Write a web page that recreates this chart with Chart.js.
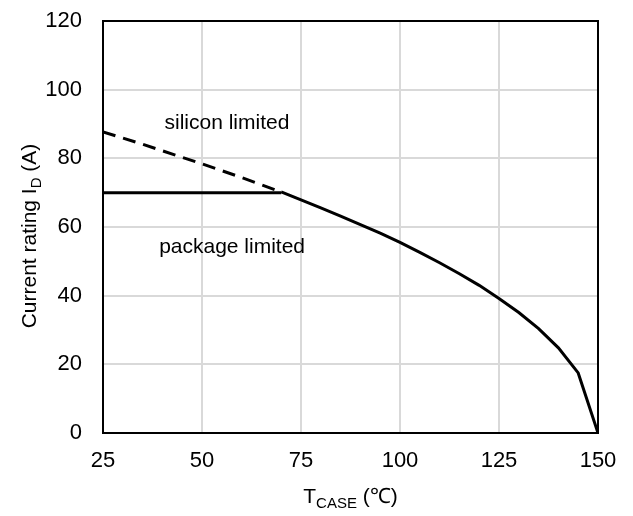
<!DOCTYPE html>
<html>
<head>
<meta charset="utf-8">
<script src="https://cdn.jsdelivr.net/npm/chart.js@4"></script>
<style>
  html, body { margin: 0; padding: 0; background: #fff; }
  #wrap { width: 633px; height: 516px; }
</style>
</head>
<body>
<div id="wrap"><canvas id="deratingChart" width="633" height="516"></canvas></div>
<script>
// Case temperature (°C) and silicon-limited current (A)
const caseTemps    = [25, 30, 35, 40, 45, 50, 55, 60, 65, 70, 75, 80, 85, 90, 95, 100, 105, 110, 115, 120, 125, 130, 135, 140, 145, 150];
const siliconLimit = [87.7, 85.9, 84.1, 82.2, 80.3, 78.4, 76.4, 74.4, 72.3, 70.2, 67.9, 65.6, 63.2, 60.7, 58.2, 55.5, 52.6, 49.6, 46.4, 43.0, 39.2, 35.1, 30.4, 24.8, 17.5, 0];
const packageTemps = [25, 70];
const packageLimit = [70, 70];
const xTicks = [25, 50, 75, 100, 125, 150];
const yTicks = [0, 20, 40, 60, 80, 100, 120];
const crossover = 70;

const FONT = 'Liberation Sans, Arial, sans-serif';

const dashedPart = caseTemps
    .map((t, i) => ({ x: t, y: siliconLimit[i] }))
    .filter(p => p.x <= crossover);
const solidPart = caseTemps
    .map((t, i) => ({ x: t, y: siliconLimit[i] }))
    .filter(p => p.x >= crossover);
const packagePart = packageTemps.map((t, i) => ({ x: t, y: packageLimit[i] }));

// frame, in-plot notes and axis titles with subscripts
const decorPlugin = {
    id: 'decor',
    afterDraw(chart) {
        const { ctx, chartArea: a, scales } = chart;
        ctx.save();
        ctx.strokeStyle = '#000';
        ctx.lineWidth = 2;
        ctx.strokeRect(a.left, a.top, a.right - a.left, a.bottom - a.top);

        ctx.fillStyle = '#000';
        ctx.font = '21px ' + FONT;
        ctx.textAlign = 'center';
        ctx.textBaseline = 'middle';
        ctx.fillText('silicon limited', scales.x.getPixelForValue(56.3), scales.y.getPixelForValue(90.3));
        ctx.fillText('package limited', scales.x.getPixelForValue(57.6), scales.y.getPixelForValue(54.2));

        // x title: T_CASE (℃)
        const big = '21px ' + FONT, small = '15px ' + FONT;
        ctx.textAlign = 'left';
        ctx.textBaseline = 'alphabetic';
        ctx.font = big; const wT = ctx.measureText('T').width;
        ctx.font = small; const wSub = ctx.measureText('CASE').width;
        ctx.font = big; const wRest = ctx.measureText(' (℃)').width;
        let x0 = (a.left + a.right) / 2 - (wT + wSub + wRest) / 2;
        const yBase = 503;
        ctx.font = big; ctx.fillText('T', x0, yBase);
        ctx.font = small; ctx.fillText('CASE', x0 + wT, yBase + 5);
        ctx.font = big; ctx.fillText(' (℃)', x0 + wT + wSub, yBase);

        // y title: Current rating I_D (A)
        ctx.translate(36, 236);
        ctx.rotate(-Math.PI / 2);
        ctx.font = big; const w1 = ctx.measureText('Current rating I').width;
        ctx.font = small; const w2 = ctx.measureText('D').width;
        ctx.font = big; const w3 = ctx.measureText(' (A)').width;
        x0 = -(w1 + w2 + w3) / 2;
        ctx.font = big; ctx.fillText('Current rating I', x0, 0);
        ctx.font = small; ctx.fillText('D', x0 + w1, 5);
        ctx.font = big; ctx.fillText(' (A)', x0 + w1 + w2, 0);
        ctx.restore();
    }
};

const ctx = document.getElementById('deratingChart').getContext('2d');
new Chart(ctx, {
    type: 'scatter',
    data: {
        datasets: [
            {
                label: 'silicon limited',
                data: dashedPart,
                showLine: true,
                borderColor: '#000',
                borderWidth: 3,
                borderDash: [13, 8],
                pointRadius: 0,
                tension: 0
            },
            {
                label: 'package limited',
                data: packagePart,
                showLine: true,
                borderColor: '#000',
                borderWidth: 3,
                pointRadius: 0
            },
            {
                label: 'rating',
                data: solidPart,
                showLine: true,
                borderColor: '#000',
                borderWidth: 3,
                pointRadius: 0,
                tension: 0
            }
        ]
    },
    options: {
        responsive: false,
        animation: false,
        layout: { padding: { top: 21, right: 35, left: 0, bottom: 0 } },
        plugins: {
            legend: { display: false },
            tooltip: { enabled: false }
        },
        scales: {
            x: {
                type: 'linear',
                min: 25,
                max: 150,
                afterBuildTicks: axis => { axis.ticks = xTicks.map(v => ({ value: v })); },
                afterFit: axis => { axis.height = 83; axis.paddingLeft = 0; axis.paddingRight = 0; },
                grid: { color: '#d9d9d9', lineWidth: 2, drawTicks: false },
                border: { display: false },
                ticks: { color: '#000', font: { family: FONT, size: 22 }, padding: 15 }
            },
            y: {
                min: 0,
                max: 120,
                afterBuildTicks: axis => { axis.ticks = yTicks.map(v => ({ value: v })); },
                afterFit: axis => { axis.width = 103; axis.paddingTop = 0; axis.paddingBottom = 0; },
                grid: { color: '#d9d9d9', lineWidth: 2, drawTicks: false },
                border: { display: false },
                ticks: { color: '#000', font: { family: FONT, size: 22 }, padding: 21 }
            }
        }
    },
    plugins: [decorPlugin]
});
</script>
</body>
</html>
